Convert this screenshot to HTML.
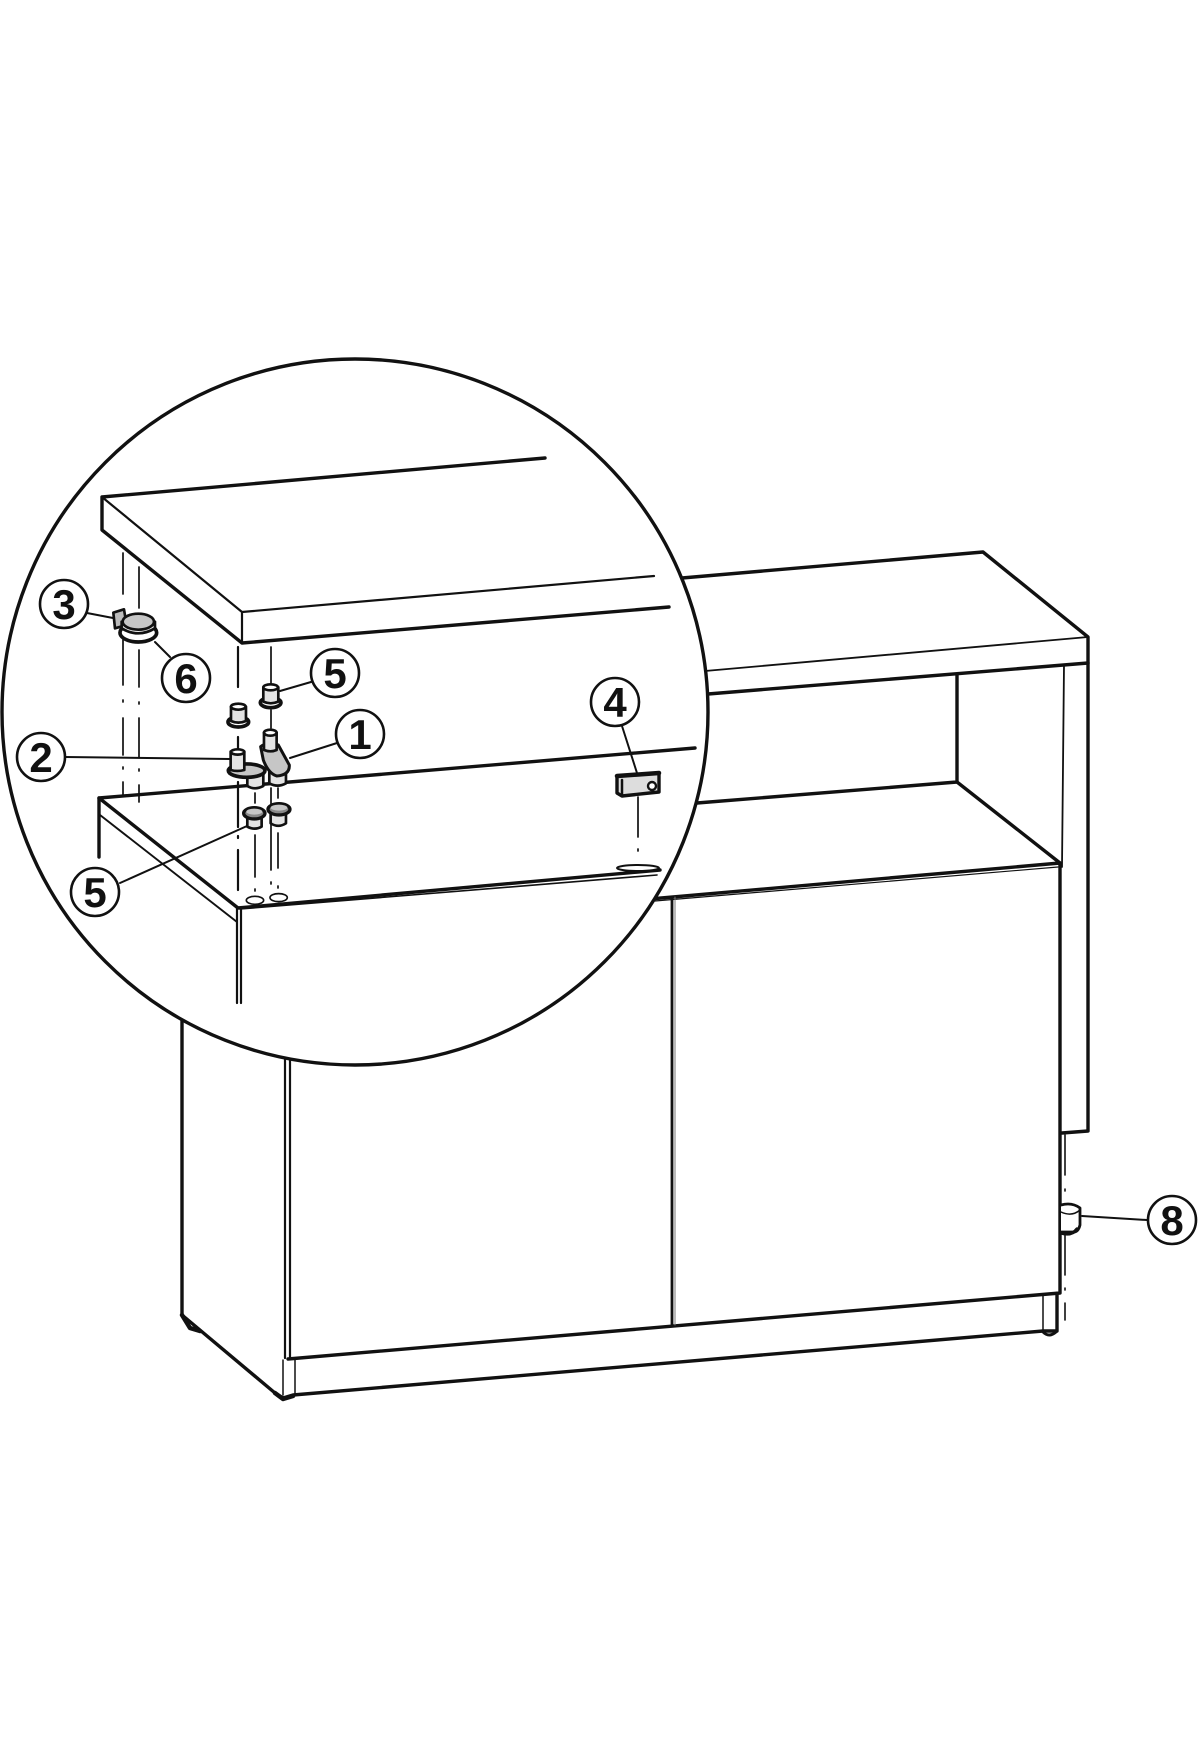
<!DOCTYPE html>
<html><head><meta charset="utf-8"><style>html,body{margin:0;padding:0;background:#fff}svg{display:block}text{font-family:"Liberation Sans",sans-serif;font-weight:bold;font-size:42px;fill:#111;text-anchor:middle}</style></head>
<body>
<svg width="1200" height="1760" viewBox="0 0 1200 1760" xmlns="http://www.w3.org/2000/svg" fill="none" stroke="#111" stroke-linecap="round" stroke-linejoin="round">
<!-- cabinet -->
<g stroke-width="3.4">
<path d="M682 578L983 552L1088 637V1131L1062 1133"/>
<path d="M708 694L1088 663"/>
<path d="M705 671L1088 637" stroke-width="1.8"/>
<path d="M957 675V782L697 803"/>
<path d="M957 782L1060 863"/>
<path d="M1064 665L1062 867" stroke-width="1.8"/>
<path d="M650 899L1060 863V1293L288 1359"/>
<path d="M655 901L1058 867" stroke-width="1.2"/>
<path d="M672 897V1325" stroke-width="2.8"/>
<path d="M675 897V1325" stroke-width="1" stroke="#777"/>
<path d="M182 1020V1315L275 1393L283 1398L293 1395L1043 1331H1057V1294"/>
<path d="M285 1058V1358M290 1058V1358" stroke-width="2.2"/>
<path d="M283 1360V1395M295 1360V1395M1043 1295V1332" stroke-width="1.5"/>
<path d="M182 1315L190 1328L200 1331M275 1393L283 1399L293 1396" stroke-width="4.5"/>
<path d="M1043 1332Q1049 1338 1056 1332" stroke-width="2.8"/>
</g>
<path d="M1065 1135V1175M1065 1189V1191M1065 1235V1275M1065 1288V1290M1065 1303V1320" stroke-width="1.6"/>
<!-- foot 8 -->
<g stroke-width="2.8">
<path d="M1061 1205Q1072 1202 1080 1208V1225Q1078 1233 1072 1232H1061" fill="#fff"/>
<path d="M1061 1212Q1072 1217 1080 1210" stroke-width="1.5"/>
<path d="M1061 1233Q1072 1236 1077 1229" stroke-width="3.4"/>
</g>
<path d="M1082 1216L1147 1220" stroke-width="2"/>
<circle cx="1172" cy="1220" r="24" fill="#fff" stroke-width="2.6"/>
<text x="1172" y="1235" stroke="none">8</text>

<!-- detail circle -->
<circle cx="355" cy="712" r="353" fill="#fff" stroke-width="3.4"/>
<g stroke-width="3.4">
<path d="M545 458L102 497V530L242 643L669 607"/>
<path d="M102 497L242 612L654 576M242 612V643" stroke-width="2.2"/>
<path d="M695 748L99 798V857"/>
<path d="M99 798L238 908L660 870"/>
<path d="M100 815L237 922" stroke-width="1.9"/>
<path d="M240 909L657 875" stroke-width="1.6"/>
<path d="M237 908V1003M241 908V1003" stroke-width="2.2"/>
</g>
<!-- dash lines -->
<g stroke-width="1.7">
<path d="M123 553V594M123 640V685M123 700V702M123 718V755M123 767V769M123 782V795"/>
<path d="M139 567V608M139 650V687M139 702V704M139 718V757M139 769V771M139 785V802"/>
<path d="M238 647V687M238 737V750M238 782V827M238 836V838M238 850V890" stroke-width="2.2"/>
<path d="M271 647V683M271 710V728M271 788V870M271 882V884"/>
<path d="M278 788V798M278 833V868M278 886V888"/>
<path d="M255 793V803M255 835V877M255 889V891"/>
<path d="M638 797V837M638 849V851"/>
</g>
<!-- parts in zoom coords -->
<g transform="translate(0,540) scale(.3333)" stroke-width="8">
<!-- 3 / 6 -->
<path d="M340 218L372 208L380 255L345 265Z" fill="#bbb"/>
<ellipse cx="415" cy="278" rx="55" ry="28" fill="#fff" stroke-width="11"/>
<path d="M365 245V265Q415 295 465 265V245" fill="#eee"/>
<ellipse cx="415" cy="245" rx="47" ry="24" fill="#c6c6c6"/>
<!-- peg top right -->
<ellipse cx="812" cy="488" rx="31" ry="15" fill="#fff" stroke-width="11"/>
<path d="M790 442V485Q812 495 835 485V442" fill="#e4e4e4"/>
<ellipse cx="812" cy="442" rx="22" ry="9" fill="#fff"/>
<!-- peg top left -->
<ellipse cx="715" cy="546" rx="31" ry="15" fill="#fff" stroke-width="11"/>
<path d="M693 500V543Q715 553 738 543V500" fill="#e4e4e4"/>
<ellipse cx="715" cy="500" rx="22" ry="9" fill="#fff"/>
<!-- lower body cylinders -->
<path d="M742 700V738Q765 752 790 738V700" fill="#e4e4e4"/>
<path d="M808 690V730Q833 744 858 730V690" fill="#e4e4e4"/>
<!-- plate -->
<ellipse cx="740" cy="692" rx="55" ry="20" fill="#c6c6c6" stroke-width="11"/>
<path d="M692 635V690Q712 696 733 690V635" fill="#e4e4e4"/>
<ellipse cx="713" cy="636" rx="20" ry="8" fill="#fff"/>
<!-- part 1 -->
<path d="M782 620Q800 605 835 615L868 675Q870 705 830 708Q805 700 790 660Z" fill="#c6c6c6" stroke-width="9"/>
<path d="M792 578V630Q812 638 830 630V578" fill="#e4e4e4"/>
<ellipse cx="811" cy="578" rx="19" ry="9" fill="#fff"/>
<!-- lower pegs -->
<path d="M742 825V860Q765 872 785 860V825" fill="#e4e4e4"/>
<ellipse cx="763" cy="820" rx="32" ry="17" fill="#888" stroke-width="10"/>
<ellipse cx="763" cy="815" rx="24" ry="9" fill="#c6c6c6" stroke="none"/>
<path d="M812 815V850Q835 865 858 850V815" fill="#e4e4e4"/>
<ellipse cx="837" cy="808" rx="33" ry="17" fill="#888" stroke-width="10"/>
<ellipse cx="837" cy="803" rx="25" ry="9" fill="#c6c6c6" stroke="none"/>
<!-- holes -->
<ellipse cx="765" cy="1081" rx="26" ry="12" stroke-width="5"/>
<ellipse cx="836" cy="1073" rx="26" ry="12" stroke-width="5"/>
</g>
<!-- part 4 -->
<path d="M617 776L659 773V792L622 796L617 793Z" fill="#ddd" stroke-width="3.4"/>
<path d="M622 780V796" stroke-width="2.5"/>
<path d="M617 776L659 773" stroke-width="4.5"/>
<circle cx="652" cy="786" r="4" fill="#fff" stroke-width="2.4"/>
<ellipse cx="638" cy="868" rx="21" ry="3" fill="#fff" stroke-width="2"/>
<!-- leaders -->
<g stroke-width="2">
<path d="M87 613L113 618M155 642L170 657M280 691L311 682M290 758L337 743M65 757L230 759M120 883L247 826M622 726L637 773"/>
</g>
<!-- callouts -->
<g fill="#fff" stroke-width="2.6">
<circle cx="64" cy="604" r="24"/>
<circle cx="186" cy="678" r="24"/>
<circle cx="335" cy="673" r="24"/>
<circle cx="360" cy="734" r="24"/>
<circle cx="41" cy="757" r="24"/>
<circle cx="95" cy="892" r="24"/>
<circle cx="615" cy="702" r="24"/>
</g>
<g stroke="none">
<text x="64" y="619">3</text>
<text x="186" y="693">6</text>
<text x="335" y="688">5</text>
<text x="360" y="749">1</text>
<text x="41" y="772">2</text>
<text x="95" y="907">5</text>
<text x="615" y="717">4</text>
</g>
</svg>
</body></html>
